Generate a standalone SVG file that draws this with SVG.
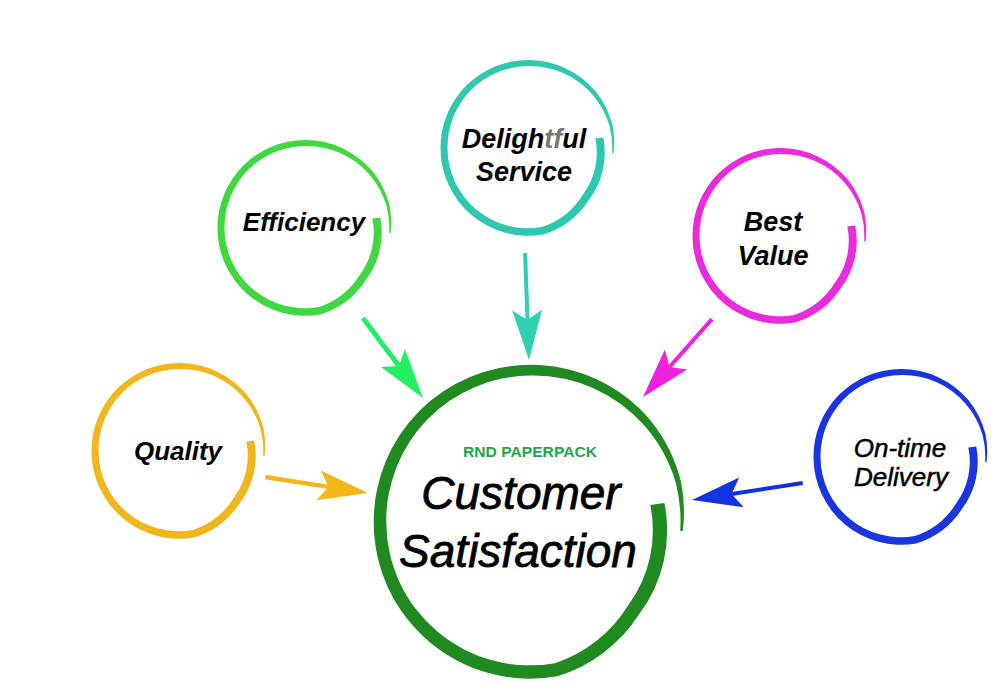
<svg xmlns="http://www.w3.org/2000/svg" xmlns:xlink="http://www.w3.org/1999/xlink" width="998" height="696" viewBox="0 0 998 696">
<style>
.lbl{font-family:"Liberation Sans",Arial,sans-serif;font-style:italic;font-weight:bold;fill:#000;text-anchor:middle}
.lbn{font-family:"Liberation Sans",Arial,sans-serif;font-style:italic;font-weight:normal;fill:#000;stroke:#000;text-anchor:middle}
.ring{fill:currentColor;stroke:none}
.shaft{stroke-linecap:butt}
</style>
<defs>
<path id="ring" class="ring" d="M75.26,-10.58 A78 78 0 0 1 61.28,51.42 A84 84 0 0 1 15.24,86.42 A87.6 87.6 0 0 1 -87.5,0 A87.7 87.7 0 0 1 0,-88 A88.1 88.1 0 0 1 67.6,-56.73 A88 88 0 0 1 84.52,-22.65 A86.6 86.6 0 0 1 85.63,4.49 A0.75 0.75 0 0 1 84.13,4.41 A84.4 84.4 0 0 0 81.62,-21.87 A84.1 84.1 0 0 0 64.15,-53.83 A83 83 0 0 0 0,-82 A81.3 81.3 0 0 0 -80.5,0 A80.4 80.4 0 0 0 13.93,79.03 A76 76 0 0 0 55.15,46.28 A70 70 0 0 0 67.34,-9.47 Z"/>
<path id="head" d="M0,0 L-50,-15 L-40,0 L-50,15 Z"/>
</defs>
<rect width="998" height="696" fill="#fff"/>

<g id="connectors">
<g transform="translate(368,493) rotate(8.8)" fill="#F5B61A" stroke="#F5B61A">
<line class="shaft" x1="-104" y1="0" x2="-40" y2="0" stroke-width="4.5"/>
<use xlink:href="#head" stroke="none"/>
</g>
<g transform="translate(423,398) rotate(53.1)" fill="#22EE66" stroke="#22EE66">
<line class="shaft" x1="-100" y1="0" x2="-40" y2="0" stroke-width="5"/>
<use xlink:href="#head" stroke="none"/>
</g>
<g transform="translate(529,360) rotate(87.9)" fill="#2ED0B2" stroke="#2ED0B2">
<line class="shaft" x1="-107" y1="0" x2="-40" y2="0" stroke-width="4"/>
<use xlink:href="#head" stroke="none"/>
</g>
<g transform="translate(643,397) rotate(131.5)" fill="#EE22DD" stroke="#EE22DD">
<line class="shaft" x1="-104" y1="0" x2="-40" y2="0" stroke-width="4"/>
<use xlink:href="#head" stroke="none"/>
</g>
<g transform="translate(692,500) rotate(171.3)" fill="#1232E0" stroke="#1232E0">
<line class="shaft" x1="-112" y1="0" x2="-40" y2="0" stroke-width="4"/>
<use xlink:href="#head" stroke="none"/>
</g>
</g>

<g id="quality">
<use xlink:href="#ring" transform="translate(179,451)" color="#F2B51C"/>
<text class="lbl" x="178" y="460" font-size="26">Quality</text>
</g>

<g id="efficiency">
<use xlink:href="#ring" transform="translate(305,228)" color="#3FD83F"/>
<text class="lbl" x="304" y="231" font-size="26">Efficiency</text>
</g>

<g id="delightful-service">
<use xlink:href="#ring" transform="translate(528,148)" color="#2EC8B0"/>
<text class="lbl" x="524" y="148" font-size="27">Deligh<tspan fill="#777">tf</tspan>ul</text>
<text class="lbl" x="524" y="181" font-size="27">Service</text>
</g>

<g id="best-value">
<use xlink:href="#ring" transform="translate(780,236)" color="#E82CDC"/>
<text class="lbl" x="773" y="231" font-size="27">Best</text>
<text class="lbl" x="773" y="265" font-size="27">Value</text>
</g>

<g id="on-time-delivery">
<use xlink:href="#ring" transform="translate(901,457)" color="#1A35E0"/>
<text class="lbn" x="900" y="457" font-size="26" stroke-width="0.5">On-time</text>
<text class="lbn" x="901" y="486" font-size="26" stroke-width="0.5">Delivery</text>
</g>

<g id="customer-satisfaction">
<use xlink:href="#ring" transform="translate(530,522) scale(1.786)" color="#1F8A1F"/>
<text x="530" y="457" font-family="'Liberation Sans',Arial,sans-serif" font-weight="bold" font-size="14" fill="#1FA64A" text-anchor="middle" textLength="134" lengthAdjust="spacingAndGlyphs">RND PAPERPACK</text>
<text class="lbn" x="521" y="509" font-size="46" stroke-width="0.8">Customer</text>
<text class="lbn" x="518" y="567" font-size="46" stroke-width="0.8">Satisfaction</text>
</g>
</svg>
